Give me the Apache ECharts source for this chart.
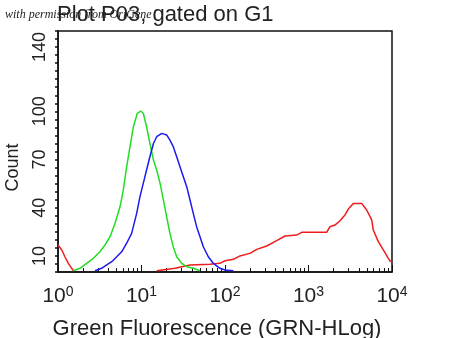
<!DOCTYPE html>
<html>
<head>
<meta charset="utf-8">
<script src="https://cdn.jsdelivr.net/npm/echarts@6/dist/echarts.min.js"></script>
<style>
    html, body { margin: 0; padding: 0; background: #fff; }
    #chartBox { width: 450px; height: 338px; }
</style>
</head>
<body>
<div id="chartBox"></div>
<script>
// 绿色曲线 (荧光值, 计数)
var greenX = [1.53, 1.83, 2.20, 2.65, 3.18, 3.66, 4.20, 4.82, 5.53, 6.05, 6.64, 7.28, 7.98, 8.91, 9.77,
              10.5, 11.5, 12.6, 13.9, 15.2, 16.7, 18.3, 20.0, 21.9, 24.0, 26.4, 30.3, 34.8, 41.7, 50.2];
var greenY = [0.8, 2.3, 5.4, 8.5, 12.6, 16.8, 22, 30.3, 40.6, 51, 65.5, 78, 90.4, 98.8, 100.2,
              98.8, 90.4, 80, 69.7, 63.5, 55.2, 44.8, 34.4, 24, 15.7, 9.5, 5.4, 3.3, 2.3, 0.8];

// 蓝色曲线
var blueX = [2.77, 3.33, 3.83, 4.40, 5.05, 5.79, 6.64, 7.62, 8.75, 9.59, 10.5, 11.5, 12.6, 13.9, 15.2,
             17.5, 20.0, 21.9, 24.0, 26.4, 28.9, 31.7, 34.8, 38.1, 41.7, 45.7, 50.2, 55.0, 63.1, 72.4,
             87.1, 100, 126];
var blueY = [0.8, 2.3, 4.4, 6.4, 9.5, 12.6, 17.9, 24, 36.5, 46.9, 55.2, 63.5, 71.7, 80, 84.2,
             86.3, 85.3, 82.1, 78, 71.7, 65.5, 59.3, 53.1, 44.8, 36.5, 28.2, 22, 15.7, 9.5, 5.4,
             2.3, 1.2, 0.8];

// 红色曲线 ('-' 为断开)
var redX = [1.0, 1.11, 1.21, 1.33, 1.46, 1.53, 5.0, 15.2, 25.2, 38.1, 66.1, 87.1, 100, 126, 151,
            199, 240, 316, 416, 524, 723, 830, 1140, 1652, 1807, 2075, 2382, 2735, 3000, 3443,
            4335, 4977, 5715, 5970, 6855, 7870, 9036, 9638];
var redY = [16.8, 13.7, 9.5, 5.4, 2.3, 0.8, '-', 0.8, 2.3, 4.4, 4.8, 5.4, 7.0, 7.9, 10,
            11.6, 14.1, 16.2, 19.5, 22.4, 23, 24.7, 24.7, 24.7, 28.2, 29.2, 31.9, 35.5, 39.2, 42.7,
            42.7, 38.6, 32.4, 26.1, 18.9, 13.7, 8.5, 6.4];

// 次刻度 (每个十倍区间的 2..9)
var xMinorTicks = [2, 3, 4, 5, 6, 7, 8, 9, 20, 30, 40, 50, 60, 70, 80, 90,
                   200, 300, 400, 500, 600, 700, 800, 900, 2000, 3000, 4000, 5000, 6000, 7000, 8000, 9000];
var yLabelValues = [10, 40, 70, 100, 140];

function zipData(xs, ys){
    var _list = [];
    for(var i = 0; i < xs.length; i++){
        _list.push([xs[i], ys[i]]);
    }
    return _list;
}

function getParams(){
    return {
        animation: false,
        title: {
            text: 'Plot P03, gated on G1',
            left: 52,
            top: -1,
            textStyle: {
                fontFamily: 'Liberation Sans',
                fontSize: 22,
                fontWeight: 'normal',
                color: '#222'
            }
        },
        graphic: [{
            type: 'text',
            left: 5,
            top: 9,
            z: 10,
            style: {
                text: 'with permission from OriGene',
                font: 'italic 12px "Liberation Serif"',
                fill: '#222'
            }
        }],
        grid: {
            left: 58,
            right: 58,
            top: 31,
            bottom: 66,
            outerBoundsMode: 'none',
            show: true,
            borderColor: '#111',
            borderWidth: 1.5
        },
        xAxis: [{
            type: 'log',
            logBase: 10,
            min: 1,
            max: 10000,
            name: 'Green Fluorescence (GRN-HLog)',
            nameLocation: 'middle',
            nameGap: 46,
            nameTextStyle: {
                fontFamily: 'Liberation Sans',
                fontSize: 22,
                color: '#222',
                padding: [0, 16, 0, 0]
            },
            axisLine: { lineStyle: { color: '#111', width: 1.5 } },
            axisTick: { inside: true, length: 7, lineStyle: { color: '#111' } },
            splitLine: { show: false },
            axisLabel: {
                margin: 13,
                formatter: function(v){
                    return '{b|10}{s|' + Math.round(Math.log(v) / Math.LN10) + '}';
                },
                rich: {
                    b: { fontFamily: 'Liberation Sans', fontSize: 21, color: '#222' },
                    s: { fontFamily: 'Liberation Sans', fontSize: 14, color: '#222', padding: [0, 0, 9, 0] }
                }
            }
        }, {
            // 只用来画次刻度
            type: 'log',
            logBase: 10,
            min: 1,
            max: 10000,
            position: 'bottom',
            axisLine: { show: false },
            axisLabel: { show: false },
            splitLine: { show: false },
            axisTick: {
                inside: true,
                length: 4,
                customValues: xMinorTicks,
                lineStyle: { color: '#111' }
            }
        }],
        yAxis: {
            type: 'value',
            min: 0,
            max: 150,
            interval: 5,
            name: 'Count',
            nameLocation: 'middle',
            nameGap: 36,
            nameRotate: 90,
            nameTextStyle: {
                fontFamily: 'Liberation Sans',
                fontSize: 18,
                color: '#222',
                padding: [0, 32, 0, 0]
            },
            axisLine: { show: true, lineStyle: { color: '#111', width: 1.5 } },
            axisTick: { length: 3, lineStyle: { color: '#111', width: 1.5 } },
            splitLine: { show: false },
            axisLabel: {
                rotate: 90,
                margin: 9,
                fontFamily: 'Liberation Sans',
                fontSize: 18,
                color: '#222',
                formatter: function(v){
                    return yLabelValues.indexOf(v) >= 0 ? String(v) : '';
                }
            }
        },
        series: [
            {
                name: 'red', type: 'line', showSymbol: false, data: zipData(redX, redY),
                lineStyle: { color: '#ee1c1c', width: 1.5 }
            },
            {
                name: 'green', type: 'line', showSymbol: false, data: zipData(greenX, greenY),
                lineStyle: { color: '#22dd22', width: 1.5 }
            },
            {
                name: 'blue', type: 'line', showSymbol: false, data: zipData(blueX, blueY),
                lineStyle: { color: '#1c1cee', width: 1.5 }
            }
        ]
    };
}

var _chart = echarts.init(document.getElementById('chartBox'));
_chart.setOption(getParams());
</script>
</body>
</html>
